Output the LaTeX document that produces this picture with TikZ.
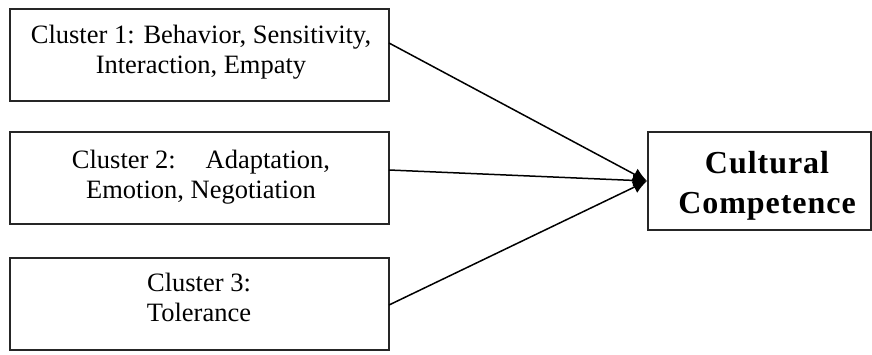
\documentclass[tikz,border=0pt]{standalone}
\usepackage{fontspec}
\setmainfont{Liberation Serif}
\usetikzlibrary{arrows.meta}
\begin{document}
\begin{tikzpicture}[x=1pt,y=-1pt,
  box/.style={draw=black!85, line width=1.6pt},
  lbl/.style={align=center, font=\fontsize{26.5}{30}\selectfont, inner sep=0pt, anchor=base},
  big/.style={align=center, font=\fontsize{32}{40}\selectfont\bfseries, inner sep=0pt, anchor=base},
  conn/.style={line width=1.5pt, -{Latex[length=14pt,width=13pt]}}]
\useasboundingbox (0,0) rectangle (872,354);
\draw[box] (10,9) rectangle (389,101);
\draw[box] (10,132) rectangle (389,224);
\draw[box] (10,258) rectangle (389,350);
\draw[box] (648,132) rectangle (871,230);
\node[lbl] (c1) at (201,73.3) {Cluster 1: Behavior, Sensitivity,\\Interaction, Empaty};
\node[lbl] (c2) at (201,198.3) {Cluster 2:\hspace{0.8em} Adaptation,\\Emotion, Negotiation};
\node[lbl] (c3) at (199,321.7) {Cluster 3:\\Tolerance};
\node[big] (cc) at (767,213) {\addfontfeature{LetterSpace=3}Cultural\\\addfontfeature{LetterSpace=3}Competence};
\coordinate (s1) at (389,43);
\coordinate (s2) at (389,170);
\coordinate (s3) at (389,305);
\coordinate (t) at (647,181);
\draw[conn] (s1) -- (t);
\draw[conn] (s2) -- (t);
\draw[conn] (s3) -- (t);
\end{tikzpicture}
\end{document}
